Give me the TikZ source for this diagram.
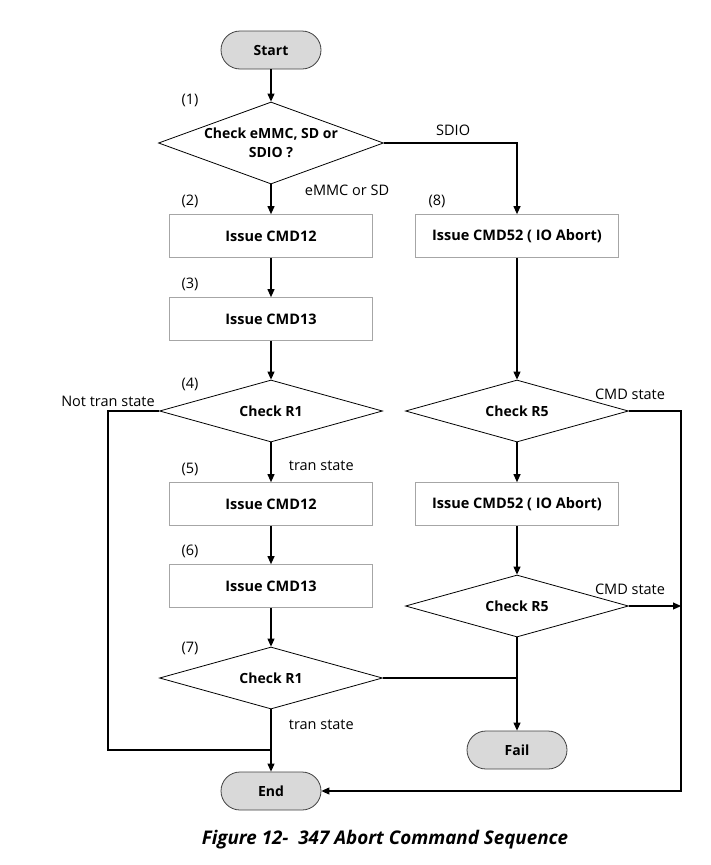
\documentclass[tikz,border=0pt]{standalone}
\usepackage{fontspec}
\setmainfont{Open Sans}
\usetikzlibrary{shapes.geometric,arrows.meta}

\begin{document}
\begin{tikzpicture}[x=1pt,y=-1pt,
    every node/.style={font=\fontsize{14.5}{19}\selectfont},
    term/.style={draw=black!75,fill=black!15,line width=0.8pt,rounded corners=19pt,
      minimum width=100pt,minimum height=38pt,font=\fontsize{14}{19}\selectfont\bfseries},
    proc/.style={draw=black!35,line width=0.7pt,minimum width=203pt,minimum height=43pt,
      font=\fontsize{14.5}{19}\selectfont\bfseries},
    dec/.style={diamond,draw,line width=0.8pt,aspect=3.6,inner sep=0pt,
      minimum width=223pt,minimum height=62pt,font=\fontsize{14}{19}\selectfont\bfseries},
    line/.style={line width=1.1pt},
    arr/.style={line,-{Triangle[length=8pt,width=7pt]}}]
  \useasboundingbox (0,0) rectangle (711,865);

  % left column
  \node[term] (S) at (271,50) {Start};
  \node[dec,aspect=2.75,inner sep=-6pt,minimum width=225pt,minimum height=82pt,align=center] (D1) at (271,143) {Check eMMC, SD or\\SDIO ?};
  \node[proc] (B2) at (271,236) {Issue CMD12};
  \node[proc] (B3) at (271,319) {Issue CMD13};
  \node[dec] (D4) at (271,411) {Check R1};
  \node[proc] (B5) at (271,504) {Issue CMD12};
  \node[proc] (B6) at (271,586) {Issue CMD13};
  \node[dec] (D7) at (271,678) {Check R1};
  \node[term] (E) at (271,791) {End};

  % right column
  \node[proc] (B8) at (517,236) {Issue CMD52 ( IO Abort)};
  \node[dec] (R5) at (517,411) {Check R5};
  \node[proc] (B9) at (517,504) {Issue CMD52 ( IO Abort)};
  \node[dec] (R6) at (517,606) {Check R5};
  \node[term] (F) at (517,750) {Fail};

  \coordinate (J) at (271,750);
  \coordinate (K1) at (108,750);
  \coordinate (K2) at (681,791);

  % step numbers
  \node (n1) at (190,100) {(1)};
  \node (n2) at (190,201) {(2)};
  \node (n3) at (190,284) {(3)};
  \node (n4) at (190,384) {(4)};
  \node (n5) at (190,469) {(5)};
  \node (n6) at (190,551) {(6)};
  \node (n7) at (190,648) {(7)};
  \node (n8) at (437,201) {(8)};

  \draw[arr] (S) -- (D1);
  \draw[arr] (D1) -- node[pos=0.2,right=30pt]{eMMC or SD} (B2);
  \draw[arr] (B2) -- (B3);
  \draw[arr] (B3) -- (D4);
  \draw[arr] (D4) -- node[pos=0.6,right=14pt]{tran state} (B5);
  \draw[arr] (B5) -- (B6);
  \draw[arr] (B6) -- (D7);
  \draw[arr] (D7) -- node[pos=0.25,right=14pt]{tran state} (E);
  \draw[line] (D4.west) -| (K1) -- (J);
  \node (nt) at (108,401) {Not tran state};

  \draw[arr] (D1.east) -| node[pos=0.26,above=3pt]{SDIO} (B8.north);
  \draw[arr] (B8) -- (R5);
  \draw[arr] (R5) -- (B9);
  \draw[arr] (B9) -- (R6);
  \draw[arr] (R6) -- (F);
  \draw[line] (D7.east) -- (D7.east -| F);
  \draw[arr] (R5.east) -| (K2) -- (E.east);
  \draw[arr] (R6.east) -- (R6.east -| K2);
  \node (c1) at (630,394) {CMD state};
  \node (c2) at (630,589) {CMD state};

  \node[font=\fontsize{18.8}{23}\selectfont\bfseries\itshape] (cap) at (385,840) {Figure 12-\ \ 347 Abort Command Sequence};
\end{tikzpicture}
\end{document}
